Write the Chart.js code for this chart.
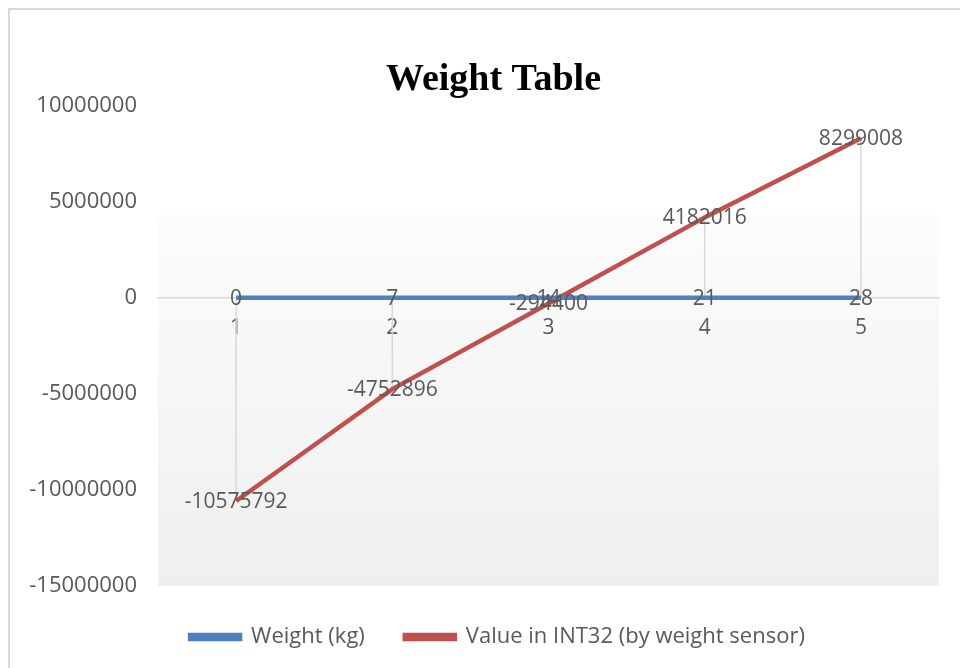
<!DOCTYPE html>
<html>
<head>
<meta charset="utf-8">
<script src="https://cdn.jsdelivr.net/npm/chart.js@4.4.0/dist/chart.umd.min.js"></script>
<style>
  html, body { margin: 0; padding: 0; background: #fff; }
  #frame {
    position: absolute; left: 8px; top: 8px; width: 980px; height: 700px;
    border: 2px solid #d9d9d9; box-sizing: border-box;
  }
  #wrap { position: absolute; left: 0; top: 0; width: 960px; height: 668px; }
</style>
</head>
<body>
<div id="frame"></div>
<div id="wrap"><canvas id="weightChart"></canvas></div>
<script>
const categories = ['1', '2', '3', '4', '5'];
const weightKg = [0, 7, 14, 21, 28];
const sensorValues = [-10575792, -4752896, -294400, 4182016, 8299008];
const yTicks = [10000000, 5000000, 0, -5000000, -10000000, -15000000];

const textColor = '#595959';
const labelFont = '"Open Sans", "DejaVu Sans", sans-serif';

// light gradient fill behind the lower part of the plot
const plotFill = {
    id: 'plotFill',
    beforeDraw(chart) {
        const { ctx, chartArea } = chart;
        const top = chartArea.top + (chartArea.bottom - chartArea.top) * 0.227;
        const g = ctx.createLinearGradient(0, top, 0, chartArea.bottom);
        g.addColorStop(0, '#fcfcfc');
        g.addColorStop(1, '#efefef');
        ctx.save();
        ctx.fillStyle = g;
        ctx.fillRect(chartArea.left, top, chartArea.right - chartArea.left, chartArea.bottom - top);
        ctx.restore();
    }
};

// title and legend sit centred on the outer frame, a little right of the canvas centre
const shiftBlocks = {
    id: 'shiftBlocks',
    afterLayout(chart) {
        [[chart.titleBlock, 11], [chart.legend, 15]].forEach(([b, dx]) => {
            if (!b) return;
            b.left += dx;
            b.right += dx;
            if (b.legendItems) b.adjustHitBoxes();
        });
    }
};

// drop lines from the sensor points to the category axis
const dropLines = {
    id: 'dropLines',
    beforeDatasetsDraw(chart) {
        const { ctx } = chart;
        const zero = chart.scales.y.getPixelForValue(0);
        const meta = chart.getDatasetMeta(1);
        ctx.save();
        ctx.strokeStyle = '#d9d9d9';
        ctx.lineWidth = 1.5;
        meta.data.forEach(p => {
            ctx.beginPath();
            ctx.moveTo(p.x, zero);
            ctx.lineTo(p.x, p.y);
            ctx.stroke();
        });
        ctx.restore();
    }
};

// value labels centred on each point
const pointLabels = {
    id: 'pointLabels',
    afterDatasetsDraw(chart) {
        const { ctx } = chart;
        ctx.save();
        ctx.font = '21px ' + labelFont;
        ctx.fillStyle = textColor;
        ctx.textAlign = 'center';
        ctx.textBaseline = 'middle';
        chart.data.datasets.forEach((ds, i) => {
            chart.getDatasetMeta(i).data.forEach((p, j) => {
                ctx.fillText(String(ds.data[j]), p.x, p.y + 1);
            });
        });
        ctx.restore();
    }
};

const ctx = document.getElementById('weightChart').getContext('2d');
new Chart(ctx, {
    type: 'line',
    data: {
        labels: categories,
        datasets: [{
            label: 'Weight (kg)',
            data: weightKg,
            borderColor: '#4f81bd',
            backgroundColor: '#4f81bd',
            borderWidth: 4.5,
            pointRadius: 0,
            tension: 0
        }, {
            label: 'Value in INT32 (by weight sensor)',
            data: sensorValues,
            borderColor: '#c0504d',
            backgroundColor: '#c0504d',
            borderWidth: 4.5,
            pointRadius: 0,
            tension: 0
        }]
    },
    options: {
        responsive: true,
        maintainAspectRatio: false,
        animation: false,
        layout: { padding: { left: 26, right: 21, top: 0, bottom: 10 } },
        plugins: {
            title: {
                display: true,
                text: 'Weight Table',
                color: '#000',
                font: { family: '"Liberation Serif", "Times New Roman", serif', size: 38, weight: 'bold' },
                padding: { top: 57, bottom: 3 }
            },
            legend: {
                position: 'bottom',
                labels: {
                    color: textColor,
                    font: { family: labelFont, size: 22 },
                    boxWidth: 50,
                    boxHeight: 4,
                    padding: 40
                }
            },
            tooltip: { enabled: false }
        },
        scales: {
            x: {
                position: { y: 0 },
                offset: true,
                grid: { display: false, offset: true },
                border: { display: true, color: '#d9d9d9', width: 1.5 },
                ticks: { color: textColor, font: { family: labelFont, size: 21 }, padding: 10 }
            },
            y: {
                min: -15000000,
                max: 10000000,
                afterBuildTicks(scale) {
                    scale.ticks = yTicks.map(v => ({ value: v }));
                },
                afterFit(scale) { scale.width = 132; },
                grid: { display: false },
                border: { display: false },
                ticks: {
                    color: textColor,
                    font: { family: labelFont, size: 22 },
                    padding: 13,
                    callback: v => String(v)
                }
            }
        }
    },
    plugins: [plotFill, shiftBlocks, dropLines, pointLabels]
});
</script>
</body>
</html>
